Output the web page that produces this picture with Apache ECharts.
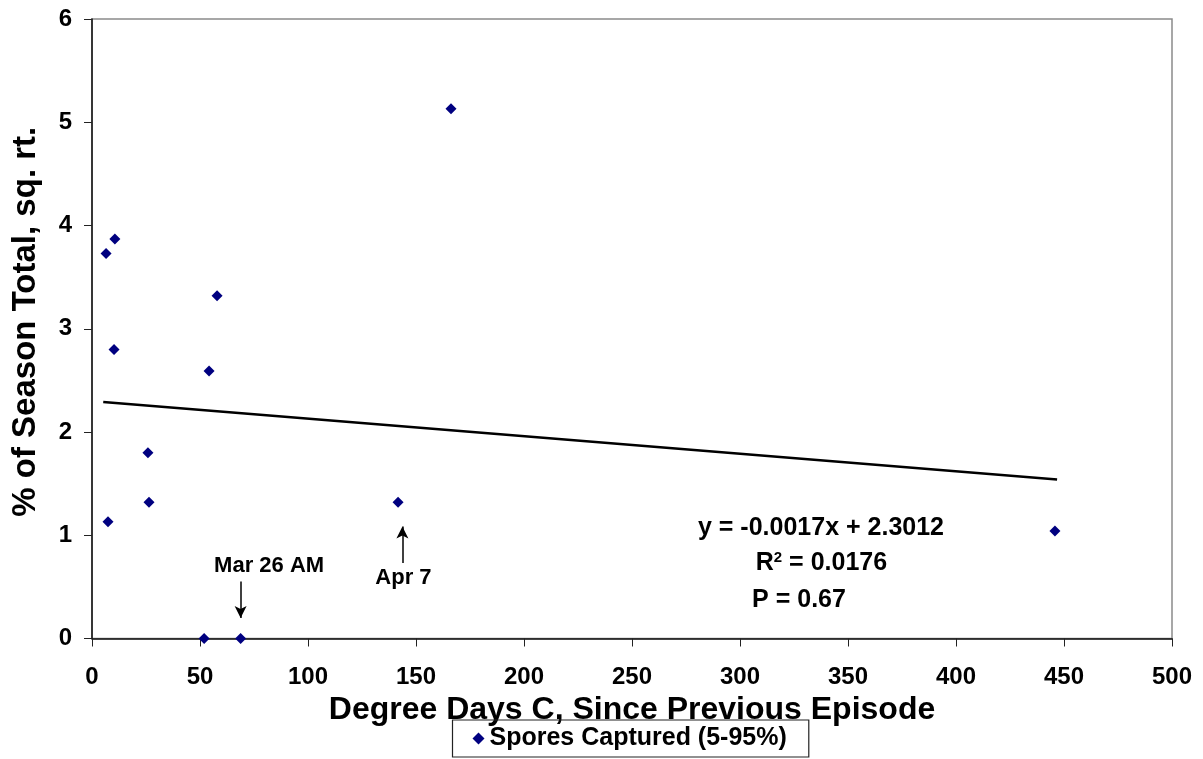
<!DOCTYPE html>
<html><head><meta charset="utf-8">
<script src="https://cdn.jsdelivr.net/npm/echarts@6/dist/echarts.min.js"></script>
<style>html,body{margin:0;padding:0;background:#fff}#c{width:1203px;height:759px}</style>
</head><body><div id="c"></div>
<script>
const degreeDays = [6.5, 10.6, 10.2, 7.4, 25.9, 26.4, 57.9, 54.2, 51.9, 68.8, 166.2, 141.7, 445.8];
const sporesSqrt = [3.73, 3.87, 2.80, 1.13, 1.80, 1.32, 3.32, 2.59, 0, 0, 5.13, 1.32, 1.04];
const trendX = [5.2, 446.8];
const trendY = [2.29, 1.54];
const xTicks = [0, 50, 100, 150, 200, 250, 300, 350, 400, 450, 500];
const yTicks = [0, 1, 2, 3, 4, 5, 6];
const seriesName = 'Spores Captured (5-95%)';
const annotTexts = ['Mar 26 AM', 'Apr 7'];
const annotTextPos = [[82.0, 0.70], [144.2, 0.583]];
const arrows = [[[68.8, 0.551], [68.8, 0.199]], [[143.7, 0.732], [143.7, 1.085]]];
const statTexts = ['y = -0.0017x + 2.3012', 'R{sup|2} = 0.0176', 'P = 0.67'];
const statPos = [[337.5, 1.072], [337.7, 0.726], [327.3, 0.376]];

const FONT = '"Liberation Sans", Arial, sans-serif';
const chart = echarts.init(document.getElementById('c'));
chart.setOption({
  animation: false,
  backgroundColor: '#fff',
  textStyle: {fontFamily: FONT},
  grid: {left: 92, top: 19, right: 31, bottom: 120.5, show: true, borderColor: '#8a8a8a', borderWidth: 1.5},
  xAxis: {
    type: 'value', min: xTicks[0], max: xTicks[xTicks.length - 1], interval: 50,
    axisLine: {show: true, lineStyle: {color: '#111', width: 1.5}},
    axisTick: {show: true, inside: false, length: 8, lineStyle: {color: '#222', width: 1}},
    splitLine: {show: false},
    axisLabel: {color: '#000', fontSize: 24, fontWeight: 'bold', fontFamily: FONT, margin: 27},
    name: 'Degree Days C, Since Previous Episode', nameLocation: 'middle', nameGap: 44,
    nameTextStyle: {color: '#000', fontSize: 32, fontWeight: 'bold', fontFamily: FONT, lineHeight: 32}
  },
  yAxis: {
    type: 'value', min: yTicks[0], max: yTicks[yTicks.length - 1], interval: 1,
    axisLine: {show: true, lineStyle: {color: '#111', width: 1.5}},
    axisTick: {show: true, inside: false, length: 8, lineStyle: {color: '#222', width: 1}},
    splitLine: {show: false},
    axisLabel: {color: '#000', fontSize: 24, fontWeight: 'bold', fontFamily: FONT, margin: 20},
    name: '% of Season Total, sq. rt.', nameLocation: 'middle', nameGap: 50,
    nameTextStyle: {color: '#000', fontSize: 33, fontWeight: 'bold', fontFamily: FONT, lineHeight: 33, padding: [0, 0, 0, 14]}
  },
  legend: {
    data: [seriesName], left: 452.5, top: 720,
    borderColor: '#222', borderWidth: 1.2, padding: [6, 22, 6, 20],
    itemWidth: 12, itemHeight: 12, itemGap: 5,
    textStyle: {color: '#000', fontSize: 25, fontWeight: 'bold', fontFamily: FONT}
  },
  series: [
    {
      name: seriesName, type: 'scatter', symbol: 'diamond', symbolSize: 11,
      itemStyle: {color: '#000080', opacity: 1},
      data: degreeDays.map((x, i) => [x, sporesSqrt[i]]), z: 5
    },
    {
      name: 'trend', type: 'line', symbol: 'none', silent: true,
      lineStyle: {color: '#000', width: 2.6},
      data: trendX.map((x, i) => [x, trendY[i]]),
      markLine: {
        silent: true, symbol: ['none', 'arrow'], symbolSize: [9, 12],
        lineStyle: {color: '#000', width: 1.5, type: 'solid', opacity: 1},
        label: {show: false},
        data: arrows.map(a => [{coord: a[0]}, {coord: a[1]}])
      }
    },
    {
      name: 'annot', type: 'scatter', symbolSize: 0, silent: true,
      itemStyle: {opacity: 1},
      label: {show: true, position: 'inside', color: '#000', fontWeight: 'bold', fontFamily: FONT,
        formatter: p => p.data.t,
        rich: {sup: {fontSize: 15, fontWeight: 'bold', color: '#000', verticalAlign: 'top', padding: [0, 0, 12, 0], fontFamily: FONT}}},
      data: annotTexts.map((t, i) => ({value: annotTextPos[i], t: t, label: {fontSize: 22}}))
        .concat(statTexts.map((t, i) => ({value: statPos[i], t: t, label: {fontSize: 25}})))
    }
  ]
});
</script></body></html>
